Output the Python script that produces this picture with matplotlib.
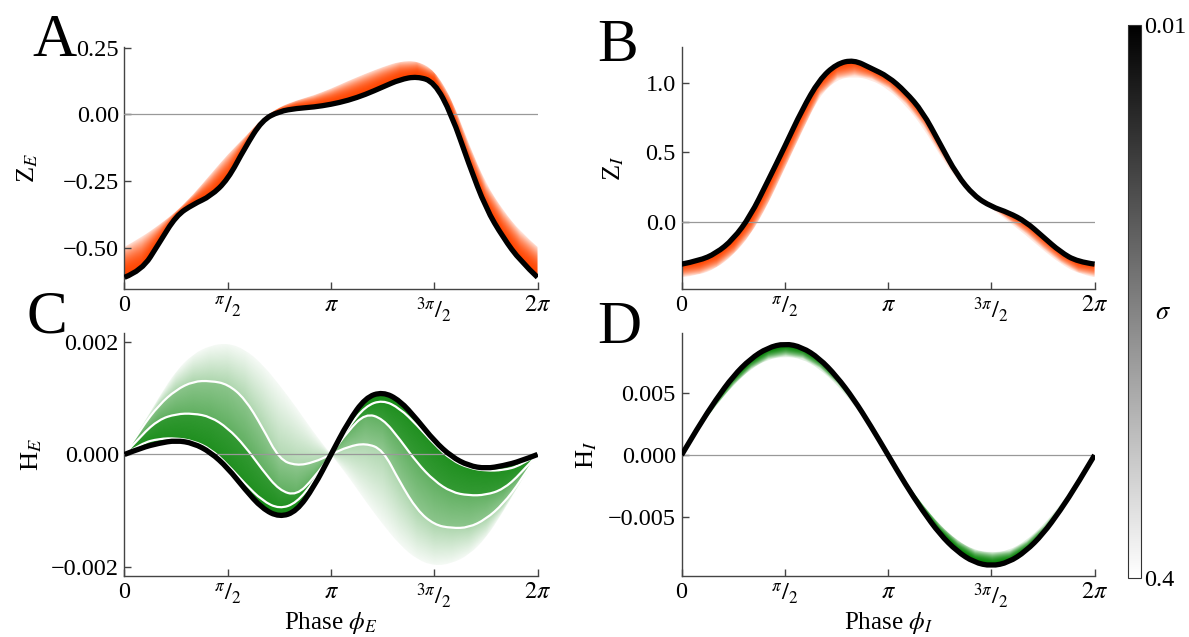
import numpy as np
import matplotlib
matplotlib.use('Agg')
import matplotlib.pyplot as plt
from matplotlib.colors import to_rgb, Normalize
from matplotlib.cm import ScalarMappable
from matplotlib.path import Path
from matplotlib.patches import PathPatch

plt.rcParams['font.family'] = ['Liberation Serif', 'DejaVu Serif']
plt.rcParams['mathtext.fontset'] = 'stix'

# phase samples (every pi/12)
phase = np.linspace(0, 2 * np.pi, 25)

# Z_E : phase response, sigma = 0.01 (black) and sigma = 0.4 (faintest)
ze_sigma_min = [-0.611, -0.586, -0.484, -0.380, -0.337, -0.307, -0.245, -0.125, -0.022, 0.011, 0.022, 0.027, 0.037,
                0.052, 0.074, 0.102, 0.130, 0.142, 0.121, 0.000, -0.185, -0.353, -0.462, -0.550, -0.611]
ze_sigma_max = [-0.497, -0.460, -0.415, -0.365, -0.300, -0.225, -0.150, -0.085, -0.015, 0.027, 0.052, 0.071, 0.096,
                0.125, 0.152, 0.177, 0.198, 0.200, 0.165, 0.060, -0.110, -0.260, -0.360, -0.440, -0.497]

# Z_I
zi_sigma_min = [-0.305, -0.281, -0.228, -0.127, 0.041, 0.288, 0.540, 0.803, 1.019, 1.134, 1.163, 1.103, 1.043,
                0.935, 0.791, 0.564, 0.336, 0.185, 0.108, 0.065, 0.000, -0.108, -0.216, -0.288, -0.305]
zi_sigma_max = [-0.400, -0.384, -0.336, -0.240, -0.096, 0.120, 0.384, 0.647, 0.900, 1.020, 1.043, 1.020, 0.952,
                0.839, 0.683, 0.480, 0.300, 0.180, 0.096, 0.000, -0.096, -0.204, -0.300, -0.372, -0.400]

# H_E (x 1e-3): black, three white-marked curves, faintest
he_sigma_min = [0, 0.12, 0.20, 0.25, 0.20, 0.04, -0.24, -0.62, -0.96, -1.115, -1.01, -0.58, 0,
                0.58, 1.01, 1.115, 0.96, 0.62, 0.24, -0.04, -0.20, -0.25, -0.20, -0.12, 0]
he_white_1 = [0, 0.20, 0.28, 0.29, 0.24, 0.10, -0.18, -0.52, -0.82, -0.97, -0.86, -0.48, 0,
              0.48, 0.86, 0.97, 0.82, 0.52, 0.18, -0.10, -0.24, -0.29, -0.28, -0.20, 0]
he_white_2 = [0, 0.35, 0.62, 0.72, 0.73, 0.67, 0.47, 0.15, -0.27, -0.64, -0.73, -0.42, 0,
              0.42, 0.73, 0.64, 0.27, -0.15, -0.47, -0.67, -0.73, -0.72, -0.62, -0.35, 0]
he_white_3 = [0, 0.48, 0.88, 1.15, 1.30, 1.31, 1.25, 0.99, 0.49, -0.09, -0.20, -0.14, 0,
              0.14, 0.20, 0.09, -0.49, -0.99, -1.25, -1.31, -1.30, -1.15, -0.88, -0.48, 0]
he_sigma_max = [0, 0.50, 1.02, 1.49, 1.79, 1.94, 1.98, 1.87, 1.61, 1.24, 0.83, 0.39, 0,
                -0.39, -0.83, -1.24, -1.61, -1.87, -1.98, -1.94, -1.79, -1.49, -1.02, -0.50, 0]

# H_I (x 1e-3)
hi_sigma_min = [0, 2.35, 4.5, 6.4, 7.8, 8.7, 9.05, 8.75, 7.85, 6.4, 4.55, 2.35, 0,
                -2.35, -4.5, -6.4, -7.8, -8.7, -9.0, -8.7, -7.8, -6.4, -4.5, -2.35, 0]
hi_sigma_max = [0, 2.1, 4.0, 5.65, 6.95, 7.75, 8.0, 7.8, 7.0, 5.75, 4.1, 2.15, 0,
                -2.1, -4.0, -5.65, -6.9, -7.7, -7.9, -7.75, -6.95, -5.7, -4.05, -2.1, 0]

sigma_range = [0.01, 0.4]

ORANGE = '#ff4500'
GREEN = '#008000'


def curve_path(x, y):
    # smooth quadratic path through the sampled points (drawn by matplotlib)
    pts = np.column_stack([x, y])
    verts, codes = [pts[0]], [Path.MOVETO]
    n = len(pts)
    for i in range(1, n - 1):
        end = (pts[i] + pts[i + 1]) / 2 if i < n - 2 else pts[i + 1]
        verts += [pts[i], end]
        codes += [Path.CURVE3, Path.CURVE3]
    return verts, codes


def draw_curve(ax, y, color, lw, z):
    v, c = curve_path(phase, np.asarray(y, float))
    ax.add_patch(PathPatch(Path(v, c), fill=False, edgecolor=color, lw=lw,
                           zorder=z, joinstyle='round', capstyle='butt'))


def shade(ax, lo, hi, color, a0, a1, p=1.0):
    # band between two curves, alpha fading from lo side to hi side
    lo = np.asarray(lo, float)
    hi = np.asarray(hi, float)
    xs = np.linspace(phase[0], phase[-1], 900)
    lo_i = np.interp(xs, phase, lo)
    hi_i = np.interp(xs, phase, hi)
    ymin = min(lo.min(), hi.min())
    ymax = max(lo.max(), hi.max())
    ys = np.linspace(ymin, ymax, 600)[:, None]
    den = hi_i - lo_i
    den = np.where(np.abs(den) < 1e-9, 1e-9, den)
    frac = np.clip((ys - lo_i) / den, 0, 1)
    rgba = np.zeros((ys.shape[0], xs.size, 4))
    rgba[..., :3] = to_rgb(color)
    rgba[..., 3] = a0 + (a1 - a0) * frac ** p
    im = ax.imshow(rgba, extent=(xs[0], xs[-1], ymin, ymax), origin='lower',
                   aspect='auto', interpolation='bilinear', zorder=1)
    v1, c1 = curve_path(phase, lo)
    v2, c2 = curve_path(phase[::-1], hi[::-1])
    c2[0] = Path.LINETO
    clip = Path(v1 + v2 + [v1[0]], c1 + c2 + [Path.CLOSEPOLY])
    im.set_clip_path(clip, transform=ax.transData)


def style(ax, yticks, fmt, ylim):
    for s in ['top', 'right']:
        ax.spines[s].set_visible(False)
    for s in ['left', 'bottom']:
        ax.spines[s].set_color('#444444')
        ax.spines[s].set_linewidth(1.0)
    ax.set_xlim(0, 2 * np.pi)
    ax.set_ylim(*ylim)
    ax.set_xticks([0, np.pi / 2, np.pi, 3 * np.pi / 2, 2 * np.pi],
                  ['0', r'${}^{\pi}/{}_{2}$', r'$\pi$', r'${}^{3\pi}/{}_{2}$', r'$2\pi$'])
    ax.set_yticks(yticks, [fmt.format(v).replace('-', '\u2212') for v in yticks])
    ax.tick_params(direction='in', length=5, width=1, color='#444444', labelsize=17.5, pad=4)
    ax.axhline(0, color='#999999', lw=0.9, zorder=3)


fig = plt.figure(figsize=(11.89, 6.37), dpi=100)
axA = fig.add_axes([0.1047, 0.5458, 0.3474, 0.3804])
axB = fig.add_axes([0.5732, 0.5458, 0.3474, 0.3804])
axC = fig.add_axes([0.1047, 0.0958, 0.3474, 0.3815])
axD = fig.add_axes([0.5732, 0.0958, 0.3474, 0.3815])
cax = fig.add_axes([0.9487, 0.0926, 0.0109, 0.868])

# A
shade(axA, ze_sigma_min, ze_sigma_max, ORANGE, 1.0, 0.12, p=2.2)
draw_curve(axA, ze_sigma_min, 'black', 3.8, 4)
style(axA, [-0.5, -0.25, 0, 0.25], '{:.2f}', (-0.656, 0.252))
axA.set_ylabel(r'Z$_{E}$', fontsize=19)
axA.yaxis.set_label_coords(-0.205, 0.5)

# B
shade(axB, zi_sigma_min, zi_sigma_max, ORANGE, 1.0, 0.12, p=2.2)
draw_curve(axB, zi_sigma_min, 'black', 3.8, 4)
style(axB, [0, 0.5, 1.0], '{:.1f}', (-0.486, 1.255))
axB.set_ylabel(r'Z$_{I}$', fontsize=19)
axB.yaxis.set_label_coords(-0.135, 0.5)

# C
he = [np.array(c) * 1e-3 for c in (he_sigma_min, he_white_1, he_white_2, he_white_3, he_sigma_max)]
shade(axC, he[0], he[1], GREEN, 0.92, 0.9)
shade(axC, he[1], he[2], GREEN, 0.88, 0.8)
shade(axC, he[2], he[3], GREEN, 0.62, 0.45)
shade(axC, he[3], he[4], GREEN, 0.32, 0.04)
for c in he[1:4]:
    draw_curve(axC, c, 'white', 1.6, 2)
draw_curve(axC, he[0], 'black', 3.8, 4)
style(axC, [-0.002, 0, 0.002], '{:.3f}', (-0.00216, 0.00216))
axC.set_ylabel(r'H$_{E}$', fontsize=19)
axC.yaxis.set_label_coords(-0.195, 0.5)
axC.set_xlabel(r'Phase $\phi_E$', fontsize=18, labelpad=0)

# D
hi = [np.array(c) * 1e-3 for c in (hi_sigma_min, hi_sigma_max)]
shade(axD, hi[0], hi[1], GREEN, 1.0, 0.12, p=2.2)
draw_curve(axD, hi[0], 'black', 3.8, 4)
style(axD, [-0.005, 0, 0.005], '{:.3f}', (-0.0098, 0.0099))
axD.set_ylabel(r'H$_{I}$', fontsize=19)
axD.yaxis.set_label_coords(-0.2, 0.5)
axD.set_xlabel(r'Phase $\phi_I$', fontsize=18, labelpad=0)

# colorbar
sm = ScalarMappable(norm=Normalize(*sigma_range), cmap='gray')
cb = fig.colorbar(sm, cax=cax, ticks=sigma_range)
cax.invert_yaxis()
cax.set_yticklabels(['0.01', '0.4'])
cax.tick_params(length=0, labelsize=17.5, pad=2)
cb.outline.set_linewidth(0.8)
cb.outline.set_edgecolor('#333333')
fig.text(1163 / 1189, 1 - 313 / 637, r'$\sigma$', fontsize=19, ha='center', va='center')

# panel letters
for lab, x, y in [('A', 0.027, 0.912), ('B', 0.502, 0.905), ('C', 0.022, 0.478), ('D', 0.502, 0.462)]:
    fig.text(x, y, lab, fontsize=44, va='baseline')

fig.savefig('out.png', dpi=100)
